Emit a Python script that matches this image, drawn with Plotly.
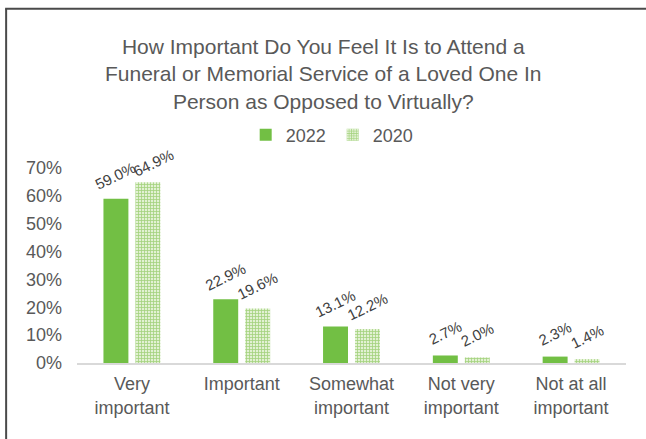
import plotly.graph_objects as go

# Survey responses, share of respondents
categories = ["Very<br>important", "Important", "Somewhat<br>important",
              "Not very<br>important", "Not at all<br>important"]
values_2022 = [0.590, 0.229, 0.131, 0.027, 0.023]
values_2020 = [0.649, 0.196, 0.122, 0.020, 0.014]
y_tick_values = [0, 0.1, 0.2, 0.3, 0.4, 0.5, 0.6, 0.7]
title_text = ("How Important Do You Feel It Is to Attend a<br>"
              "Funeral or Memorial Service of a Loved One In<br>"
              "Person as Opposed to Virtually?")

W, H = 646, 439
L, R, T, B = 76.5, 19.5, 168, 75.7
plot_w = W - L - R
plot_h = H - T - B


def px_x(px):
    return (px - L) / plot_w


def px_y(py):
    return (H - B - py) / plot_h


FONT = "Liberation Sans, Arial, sans-serif"
label_font = dict(family=FONT, size=15, color="#404040")

fig = go.Figure()
fig.add_trace(go.Bar(
    name="2022", x=categories, y=values_2022,
    marker=dict(color="#72bf44", line=dict(width=0)),
))
fig.add_trace(go.Bar(
    name="2020", x=categories, y=values_2020,
    marker=dict(
        color="#d3eabd", line=dict(width=0),
        pattern=dict(shape="+", size=3, solidity=0.45,
                     fgcolor="#a3d27c", bgcolor="#e2f1d3", fillmode="replace"),
    ),
))

# Rotated value labels above each bar; the tallest 2020 label is nudged
# right so it clears its neighbour.
annotations = []
for series, shift, nudge in ((values_2022, -16, {}), (values_2020, 16, {0: 6})):
    for i, (cat, v) in enumerate(zip(categories, series)):
        annotations.append(dict(
            x=cat, y=v, xref="x", yref="y", text=f"{v:.1%}",
            xshift=shift + nudge.get(i, 0), yshift=23 - nudge.get(i, 0) / 2,
            textangle=-26, xanchor="center", yanchor="middle",
            showarrow=False, font=label_font,
        ))

annotations.append(dict(
    text=title_text, xref="paper", yref="paper",
    x=px_x(323), y=px_y(74), xanchor="center", yanchor="middle",
    showarrow=False, font=dict(family=FONT, size=21, color="#595959"),
))

fig.update_layout(
    width=W, height=H,
    margin=dict(l=L, r=R, t=T, b=B, pad=0, autoexpand=False),
    paper_bgcolor="white", plot_bgcolor="white",
    barmode="group", bargap=0.418, bargroupgap=0.219,
    font=dict(family=FONT, color="#595959", size=18),
    legend=dict(
        orientation="h", xref="container", yref="container",
        x=0.515, xanchor="center", y=1 - 135 / H, yanchor="middle",
        font=dict(size=18, color="#595959"),
        itemwidth=30, traceorder="normal",
        entrywidth=42, entrywidthmode="pixels",
    ),
    xaxis=dict(
        showline=True, linecolor="#d9d9d9", linewidth=1.5,
        ticks="", showgrid=False, tickfont=dict(size=18),
        ticklabelstandoff=4,
    ),
    yaxis=dict(
        range=[0, 0.7], tickvals=y_tick_values, tickformat=".0%",
        showgrid=False, zeroline=False, showline=False,
        ticklabelstandoff=14, tickfont=dict(size=18),
    ),
    annotations=annotations,
    shapes=[
        dict(type="line", xref="paper", yref="paper",
             x0=px_x(5.5), x1=px_x(5.5), y0=px_y(8.5), y1=px_y(445),
             line=dict(color="#4a4a4a", width=2)),
        dict(type="line", xref="paper", yref="paper",
             x0=px_x(4.5), x1=px_x(652), y0=px_y(8.5), y1=px_y(8.5),
             line=dict(color="#4a4a4a", width=2)),
    ],
)

fig.write_html("out.html")
